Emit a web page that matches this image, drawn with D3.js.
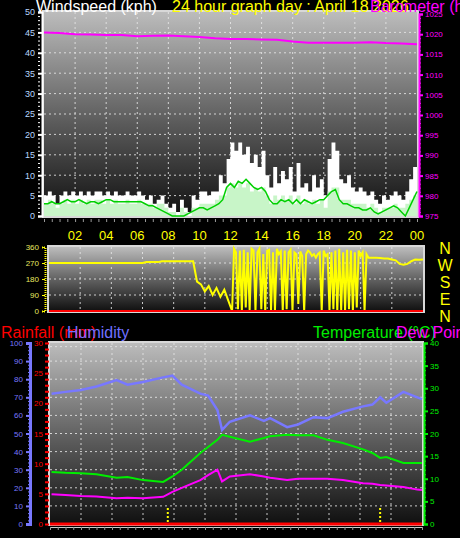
<!DOCTYPE html>
<html><head><meta charset="utf-8">
<script src="https://cdn.jsdelivr.net/npm/d3@7"></script>
<style>body{margin:0;background:#000}svg{display:block}text{font-family:"Liberation Sans",Arial,sans-serif}</style>
</head><body><svg id="c" width="460" height="538"></svg>
<script>
const hourTicks=["02","04","06","08","10","12","14","16","18","20","22","00"];
const gust=[5,6,5,3,5,6,5,6,5, 6,5,6,5,6,6,5,6, 5,6,5,5,6,5,5,6, 5,4,5,3,4,5,3,2, 3,1,4,2,1,5,4,6, 6,5,6,6,10,8,14,18, 16,18,15,17,13,15,12,16, 10,7,12,8,11,9,12,6, 13,7,8,6,10,7,9,5, 14,18,16,9,8,10,7,6, 7,6,5,6,4,3,5,4, 5,6,5,4,6,9,12,13];
const wind=[3,4,3,2,3,4,3,4,3, 4,3,4,3,4,4,3,4, 3,4,3,3,4,3,3,4, 3,3,3,2,3,3,2,1, 1,0,2,1,0,2,2,3, 3,3,3,4,5,5,7,8, 7,8,7,8,6,7,6,7, 5,3,5,4,5,4,5,3, 5,3,4,3,4,3,4,2, 6,7,7,4,4,4,3,3, 3,3,2,3,2,1,2,2, 2,3,2,2,3,4,5,6];
const avgWind=[3,3,3.5,3,3,3.5,4,3.5,3.5, 4,3.5,3,3.5,3.5,3,3.5,4, 4,3.5,3.5,3.5,3.5,3.5,3.5,3.5, 3.5,3,2.5,2.5,2,1.5,1,0.5, 0,0,0,0,0.5,1,1.5,2, 2,1.5,2,2.5,3,4,7,8, 7,8.5,8,9,8,7,6.5,7, 6,4,3,3,4,3.5,4,3, 4,3,4,3.5,3,3.5,4,4, 5,6,6.5,4,3,3,2.5,2, 2,1.5,1.5,2,1,0.5,1,1.5, 2,2.5,2,1,0,2,4,6];
const pressure=[1020.4,1020.3,1020,1019.9,1019.8,1019.8,1019.5,1019.6,1019.7,1019.5,1019.3,1019,1018.8,1018.8,1018.7,1018.6,1018.2,1017.9,1017.9,1017.9,1017.9,1018,1017.8,1017.7,1017.5];
const dirMorning=[270,270,270,270,270,270,270,270,270,270,270,270,270,270,270,270,270,270,270,270,270,270,270,270,270,
 275,275,275,275, 280,280,280,280,280,280,280,280,280,
 165,150,110,140,90,130,80,120,60];
const dirVariable=[0,350,330,10,340,0,345,20,330,5, 350,340,0,330,350,10,320,0,340,345, 5,330,0,350,320,335,0,340,10,330,
 345,0,330,320,40,335,310,0,320,340, 330,310,320,300,320,330,0,340,310,320, 0,330,10,340,0,350,5,330,0,345,
 10,340,0,330,20,340,310,330,0,320, 300];
const dirEvening=[300,300,298,296,295,290,285,265,260,265,280,290,288,290];
const bHours=[0.1,1,2,3,4.3,5,6,7.3,7.9,8.5,9.7,10.2,10.8,11.1,11.6,12.9,13.8,14.2,15.3,16,17,17.9,18.9,20.2,20.8,21.3,21.7,22.8,23.7,24];
const humidity=[72,73,74,76,79.5,77,78.5,81,82,77,72,71,63,52,56.5,60,57,58.5,53.5,55,59,58.5,62,65,66,70,67,73,70,69];
const temperature=[11.5,11.3,11.2,11,10.2,10.4,9.7,9.3,10.5,12,15.7,17,18.6,19.7,19.3,18.2,19,19.4,19.7,19.6,19.6,18.6,17.9,16.5,15.7,14.6,14.8,13.5,13.5,13.5];
const dewPoint=[6.6,6.4,6.2,6.1,5.7,5.8,5.7,6,7.1,8,9.7,10.8,12,9.4,10.5,11,10.5,10.2,9.7,10,10,10,9.7,9,8.9,8.6,8.5,8.2,7.6,7.5];
const rain=[0,0];
const rainMarks=[7.6,21.3];

const svg=d3.select("#c");
const defs=svg.append("defs");
const g=defs.append("linearGradient").attr("id","bg").attr("x1",0).attr("y1",0).attr("x2",0).attr("y2",1);
g.append("stop").attr("offset","0").attr("stop-color","#bcbcbc");
g.append("stop").attr("offset","0.55").attr("stop-color","#5a5a5a");
g.append("stop").attr("offset","1").attr("stop-color","#101010");

function panel(x0,x1,y0,y1){
  svg.append("rect").attr("x",x0-2).attr("y",y0-2).attr("width",x1-x0+4).attr("height",y1-y0+4).attr("fill","#d8d8d8");
  svg.append("rect").attr("x",x0).attr("y",y0).attr("width",x1-x0).attr("height",y1-y0).attr("fill","url(#bg)");
}
function grid(x,y,ys,x0,x1,y0,y1){
  const gg=svg.append("g").attr("stroke","#e8e8e8").attr("stroke-dasharray","2,3").attr("opacity",0.85);
  [2,4,6,8,10,12,14,16,18,20,22].forEach(h=>gg.append("line").attr("x1",x(h)).attr("x2",x(h)).attr("y1",y0).attr("y2",y1));
  ys.forEach(v=>gg.append("line").attr("x1",x0).attr("x2",x1).attr("y1",y(v)).attr("y2",y(v)));
}
const idx=d3.range(97).map(i=>i/4);

// ---- TOP PANEL
const xT=d3.scaleLinear([0,24],[44,417]);
const yW=d3.scaleLinear([0,50],[216,12]);
const yP=d3.scaleLinear([975,1025],[216,14]);
panel(44,417,12,216);
grid(xT,yW,[5,10,15,20,25,30,35,40,45],44,417,12,216);
svg.append("path").datum(gust).attr("fill","#fff")
 .attr("d",d3.area().x((d,i)=>xT(idx[i])).y0(yW(0)).y1(d=>yW(d)).curve(d3.curveStepAfter));
svg.append("path").datum(wind).attr("fill","#c8f5c8")
 .attr("d",d3.area().x((d,i)=>xT(idx[i])).y0(yW(0)).y1(d=>yW(d)).curve(d3.curveStepAfter));
svg.append("path").datum(avgWind).attr("fill","none").attr("stroke","#00d000").attr("stroke-width",1.5)
 .attr("d",d3.line().x((d,i)=>xT(idx[i])).y(d=>yW(d)));
svg.append("path").datum(pressure).attr("fill","none").attr("stroke","#ff00ff").attr("stroke-width",2)
 .attr("d",d3.line().x((d,i)=>xT(i)).y(d=>yP(d)));
const axL=svg.append("g").attr("transform","translate(42,0)")
 .call(d3.axisLeft(yW).tickValues(d3.range(0,51,5)).tickSize(4).tickPadding(3));
axL.select(".domain").attr("stroke","#fff").attr("stroke-width",2);
axL.selectAll("line").attr("stroke","#fff").attr("stroke-width",2);
axL.selectAll("text").attr("fill","#b8d8ff").attr("font-size",9);
svg.append("g").attr("transform","translate(40,0)").call(d3.axisLeft(yW).tickValues(d3.range(0,51,1)).tickSize(2).tickFormat(""))
 .call(a=>{a.select(".domain").remove();a.selectAll("line").attr("stroke","#fff");});
const axR=svg.append("g").attr("transform","translate(419,0)")
 .call(d3.axisRight(yP).tickValues(d3.range(975,1026,5)).tickFormat(d3.format("d")).tickSize(4).tickPadding(2));
axR.select(".domain").attr("stroke","#ff00ff").attr("stroke-width",2);
axR.selectAll("line").attr("stroke","#ff00ff").attr("stroke-width",2);
axR.selectAll("text").attr("fill","#ff00ff").attr("font-size",8);
svg.append("g").attr("transform","translate(419,0)").call(d3.axisRight(yP).tickValues(d3.range(975,1026,1)).tickSize(2).tickFormat(""))
 .call(a=>{a.select(".domain").remove();a.selectAll("line").attr("stroke","#ff00ff");});
svg.append("g").attr("transform","translate(0,219)").call(d3.axisBottom(xT).tickValues(d3.range(0,24.01,0.5)).tickSize(3).tickFormat(""))
 .call(a=>{a.select(".domain").remove();a.selectAll("line").attr("stroke","#999");});
hourTicks.forEach((t,i)=>svg.append("text").attr("x",xT(2*(i+1))).attr("y",240).attr("text-anchor","middle")
 .attr("fill","#ffff00").attr("font-size",13).text(t));
svg.append("text").attr("x",36).attr("y",12).attr("fill","#fff").attr("font-size",16).text("Windspeed (kph)");
svg.append("text").attr("x",172).attr("y",12).attr("fill","#ffff00").attr("font-size",16).text("24 hour graph day : April 18 2026");
svg.append("text").attr("x",370).attr("y",12).attr("fill","#ff00ff").attr("font-size",16).text("Barometer (hPa)");

// ---- MIDDLE PANEL
const xM=d3.scaleLinear([0,24],[49,423]);
const yD=d3.scaleLinear([0,360],[311,247]);
panel(49,423,247,311);
grid(xM,yD,[90,180,270],49,423,247,311);
const dirHours=[...dirMorning.map((d,i)=>i*0.25),...dirVariable.map((d,i)=>11.75+i*0.125),...dirEvening.map((d,i)=>20.75+i*0.25)];
const direction=[...dirMorning,...dirVariable,...dirEvening];
svg.append("path").datum(direction).attr("fill","none").attr("stroke","#ffff00").attr("stroke-width",2)
 .attr("d",d3.line().x((d,i)=>xM(dirHours[i])).y(d=>yD(d)));
svg.append("line").attr("x1",49).attr("x2",423).attr("y1",yD(0)).attr("y2",yD(0)).attr("stroke","#ff0000").attr("stroke-width",2);
const axD=svg.append("g").attr("transform","translate(45,0)")
 .call(d3.axisLeft(yD).tickValues([0,90,180,270,360]).tickSize(3).tickPadding(3));
axD.select(".domain").attr("stroke","#ffff00").attr("stroke-width",2).attr("stroke-dasharray","1,1");
axD.selectAll("line").attr("stroke","#ffff00");
axD.selectAll("text").attr("fill","#e8e860").attr("font-size",8);
["N","W","S","E","N"].forEach((t,i)=>svg.append("text").attr("x",445).attr("y",254+i*17).attr("text-anchor","middle")
 .attr("fill","#ffff00").attr("font-size",16).text(t));

// ---- BOTTOM PANEL
const xB=d3.scaleLinear([0,24],[50,422]);
const yH=d3.scaleLinear([0,100],[524,343]);
const yTm=d3.scaleLinear([0,40],[524,343]);
const yR=d3.scaleLinear([0,30],[524,343]);
panel(50,422,343,524);
grid(xB,yH,[10,20,30,40,50,60,70,80,90,98],50,422,343,524);
svg.append("g").selectAll("line").data(rainMarks).join("line").attr("x1",d=>xB(d)).attr("x2",d=>xB(d))
 .attr("y1",508).attr("y2",524).attr("stroke","#ffff00").attr("stroke-width",2).attr("stroke-dasharray","2,2");
const ln=(arr,y)=>d3.line().x((d,i)=>xB(bHours[i])).y(d=>y(d))(arr);
svg.append("path").attr("d",ln(humidity,yH)).attr("fill","none").attr("stroke","#7878ff").attr("stroke-width",2.5);
svg.append("path").attr("d",ln(temperature,yTm)).attr("fill","none").attr("stroke","#00ee00").attr("stroke-width",2);
svg.append("path").attr("d",ln(dewPoint,yTm)).attr("fill","none").attr("stroke","#ff00ff").attr("stroke-width",2);
svg.append("path").datum(rain).attr("d",d3.line().x((d,i)=>xB(i*24)).y(d=>yR(d))).attr("stroke","#ff0000").attr("stroke-width",3);
const axH=svg.append("g").attr("transform","translate(30,0)")
 .call(d3.axisLeft(yH).tickValues(d3.range(0,101,10)).tickSize(4).tickPadding(3));
axH.select(".domain").attr("stroke","#7878ff").attr("stroke-width",3);
axH.selectAll("line").attr("stroke","#7878ff").attr("stroke-width",2);
axH.selectAll("text").attr("fill","#7878ff").attr("font-size",8);
svg.append("g").attr("transform","translate(30,0)").call(d3.axisLeft(yH).tickValues(d3.range(0,101,2)).tickSize(2).tickFormat(""))
 .call(a=>{a.select(".domain").remove();a.selectAll("line").attr("stroke","#7878ff");});
const axRn=svg.append("g").attr("transform","translate(48,0)")
 .call(d3.axisLeft(yR).tickValues(d3.range(0,31,5)).tickSize(0).tickPadding(5));
axRn.select(".domain").remove();
axRn.selectAll("text").attr("fill","#ff0000").attr("font-size",8);
svg.append("g").attr("transform","translate(49,0)").call(d3.axisLeft(yR).tickValues(d3.range(0,31,1)).tickSize(4).tickFormat(""))
 .call(a=>{a.select(".domain").remove();a.selectAll("line").attr("stroke","#ff0000").attr("stroke-width",2);});
const axT=svg.append("g").attr("transform","translate(424,0)")
 .call(d3.axisRight(yTm).tickValues(d3.range(0,41,5)).tickSize(4).tickPadding(2));
axT.select(".domain").attr("stroke","#00ee00").attr("stroke-width",2);
axT.selectAll("line").attr("stroke","#00ee00").attr("stroke-width",2);
axT.selectAll("text").attr("fill","#00ee00").attr("font-size",8);
svg.append("g").attr("transform","translate(424,0)").call(d3.axisRight(yTm).tickValues(d3.range(0,41,1)).tickSize(2).tickFormat(""))
 .call(a=>{a.select(".domain").remove();a.selectAll("line").attr("stroke","#00ee00");});
svg.append("g").attr("transform","translate(0,527)").call(d3.axisBottom(xB).tickValues(d3.range(0,24.01,0.5)).tickSize(3).tickFormat(""))
 .call(a=>{a.select(".domain").attr("stroke","#ccc");a.selectAll("line").attr("stroke","#999");});
svg.append("text").attr("x",1).attr("y",338).attr("fill","#ff0000").attr("font-size",16).text("Rainfall (mm)");
svg.append("text").attr("x",67).attr("y",338).attr("fill","#7070ff").attr("font-size",16).text("Humidity");
svg.append("text").attr("x",313).attr("y",338).attr("fill","#00ee00").attr("font-size",16).text("Temperature (°C)");
svg.append("text").attr("x",396).attr("y",338).attr("fill","#ff00ff").attr("font-size",16).text("Dew Point");
</script></body></html>
